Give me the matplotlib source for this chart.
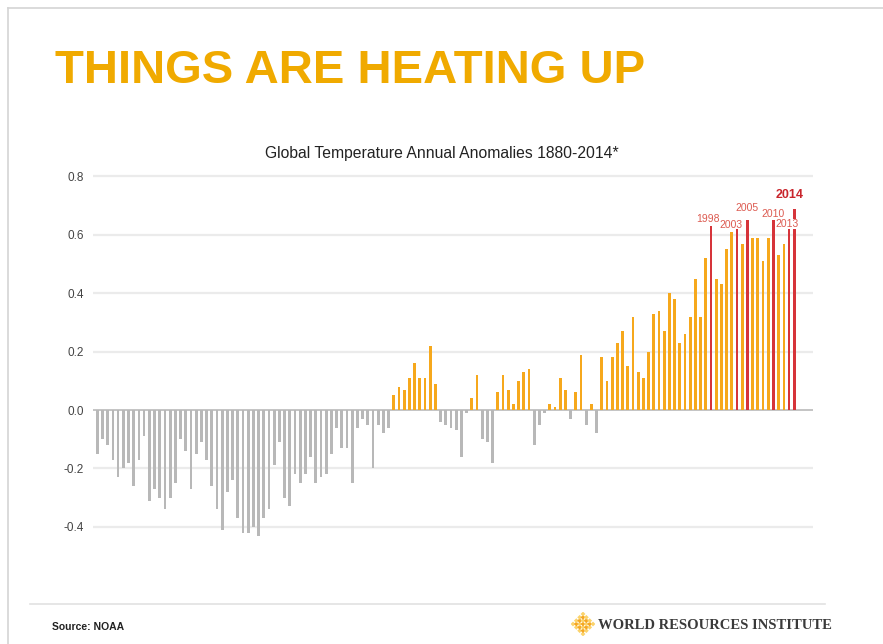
import numpy as np
import matplotlib
matplotlib.use("Agg")
import matplotlib.pyplot as plt
from matplotlib.lines import Line2D

# Data: NOAA global annual temperature anomalies (deg C)
years = np.arange(1880, 2015)
anomalies = [
    -0.15, -0.10, -0.12, -0.17, -0.23, -0.20, -0.18, -0.26, -0.17, -0.09,  # 1880s
    -0.31, -0.27, -0.30, -0.34, -0.30, -0.25, -0.10, -0.14, -0.27, -0.15,  # 1890s
    -0.11, -0.17, -0.26, -0.34, -0.41, -0.28, -0.24, -0.37, -0.42, -0.42,  # 1900s
    -0.40, -0.43, -0.37, -0.34, -0.19, -0.11, -0.30, -0.33, -0.22, -0.25,  # 1910s
    -0.22, -0.16, -0.25, -0.23, -0.22, -0.15, -0.06, -0.13, -0.13, -0.25,  # 1920s
    -0.06, -0.03, -0.05, -0.20, -0.05, -0.08, -0.06, 0.05, 0.08, 0.07,     # 1930s
    0.11, 0.16, 0.11, 0.11, 0.22, 0.09, -0.04, -0.05, -0.06, -0.07,        # 1940s
    -0.16, -0.01, 0.04, 0.12, -0.10, -0.11, -0.18, 0.06, 0.12, 0.07,       # 1950s
    0.02, 0.10, 0.13, 0.14, -0.12, -0.05, -0.01, 0.02, 0.01, 0.11,         # 1960s
    0.07, -0.03, 0.06, 0.19, -0.05, 0.02, -0.08, 0.18, 0.10, 0.18,         # 1970s
    0.23, 0.27, 0.15, 0.32, 0.13, 0.11, 0.20, 0.33, 0.34, 0.27,            # 1980s
    0.40, 0.38, 0.23, 0.26, 0.32, 0.45, 0.32, 0.52, 0.63, 0.45,            # 1990s
    0.43, 0.55, 0.61, 0.62, 0.57, 0.65, 0.59, 0.59, 0.51, 0.59,            # 2000s
    0.65, 0.53, 0.57, 0.62, 0.69,                                          # 2010s
]
record_years = [1998, 2003, 2005, 2010, 2013, 2014]
y_ticks = [-0.4, -0.2, 0.0, 0.2, 0.4, 0.6, 0.8]
tick_labels = ["-0.4", "-0.2", "0.0", "0.2", "0.4", "0.6", "0.8"]

GRAY = "#b8b8b8"
ORANGE = "#f6a81c"
RED = "#d6343a"
TITLE_ORANGE = "#f0aa00"
SANS = "Liberation Sans"

anomalies = np.array(anomalies)
colors = []
for yr, val in zip(years, anomalies):
    if yr in record_years:
        colors.append(RED)
    elif val >= 0:
        colors.append(ORANGE)
    else:
        colors.append(GRAY)

fig = plt.figure(figsize=(8.83, 6.44), dpi=100)
fig.patch.set_facecolor("white")

# slide frame
fig.add_artist(Line2D([8 / 883, 8 / 883], [0, 1 - 8 / 644], color="#d4d4d4", lw=1.2))
fig.add_artist(Line2D([8 / 883, 1], [1 - 8 / 644, 1 - 8 / 644], color="#d4d4d4", lw=1.2))
# footer rule
fig.add_artist(Line2D([30 / 883, 825 / 883], [1 - 604 / 644, 1 - 604 / 644], color="#e2e2e2", lw=1.2))

fig.text(55 / 883, 1 - 83 / 644, "THINGS ARE HEATING UP", fontsize=34, fontweight="bold",
         color=TITLE_ORANGE, family=SANS, va="baseline", ha="left")
fig.text(442 / 883, 1 - 158 / 644, "Global Temperature Annual Anomalies 1880-2014*",
         family=SANS, fontsize=11.3, color="#222222", ha="center", va="baseline")

ax = fig.add_axes([0.1057, 0.1548, 0.815, 0.5803])
for yv in y_ticks:
    if yv == 0:
        continue
    ax.axhline(yv, color="#ebebeb", lw=1.6, zorder=0)
ax.axhline(0, color="#c4c4c4", lw=1.4, zorder=1)

ax.bar(years, anomalies, width=0.52, color=colors, zorder=2)

ax.set_xlim(1879.23, 2017.6)
ax.set_ylim(-0.46, 0.82)
ax.set_yticks(y_ticks)
ax.set_yticklabels(tick_labels, family=SANS, fontsize=8.5, color="#444444")
ax.tick_params(axis="y", length=0, pad=7)
ax.set_xticks([])
for s in ax.spines.values():
    s.set_visible(False)

# record year labels
label_pos = {1998: (-0.6, 0.008), 2003: (-1.1, -0.002), 2005: (0.0, 0.025),
             2010: (-0.1, 0.005), 2013: (-0.3, 0.0)}
for yr, (dx, dy) in label_pos.items():
    val = anomalies[yr - years[0]]
    box = dict(facecolor="white", edgecolor="none", pad=0.3) if yr == 2013 else None
    ax.text(yr + dx, val + dy, str(yr), ha="center", va="bottom", fontsize=7.5,
            family=SANS, color="#dc5a50", zorder=3, bbox=box)
v14 = anomalies[2014 - years[0]]
ax.text(2014 - 0.8, v14 + 0.026, "2014", ha="center", va="bottom", fontsize=9,
        fontweight="bold", family=SANS, color="#c9252c", zorder=3)

# footer
fig.text(52 / 883, 1 - 630 / 644, "Source: NOAA", fontsize=7.5, fontweight="bold",
         family=SANS, color="#222222", ha="left", va="baseline")
fig.text(598 / 883, 1 - 629 / 644, "WORLD RESOURCES INSTITUTE", fontsize=10.5,
         fontweight="bold", family="Liberation Serif", color="#3a3a3a",
         ha="left", va="baseline")

# small diamond logo
lax = fig.add_axes([571 / 883, 1 - 636 / 644, 24 / 883, 24 / 644])
lx, ly, lc = [], [], []
for i in range(-3, 4):
    for j in range(-3, 4):
        if abs(i) + abs(j) <= 3:
            lx.append(i)
            ly.append(j)
            lc.append("#f5a623" if (i + j) % 2 == 0 else "#fbd36b")
lax.scatter(lx, ly, marker="D", s=6, c=lc, linewidths=0)
lax.set_xlim(-3.6, 3.6)
lax.set_ylim(-3.6, 3.6)
lax.axis("off")

fig.savefig("out.png", dpi=100, facecolor="white")
